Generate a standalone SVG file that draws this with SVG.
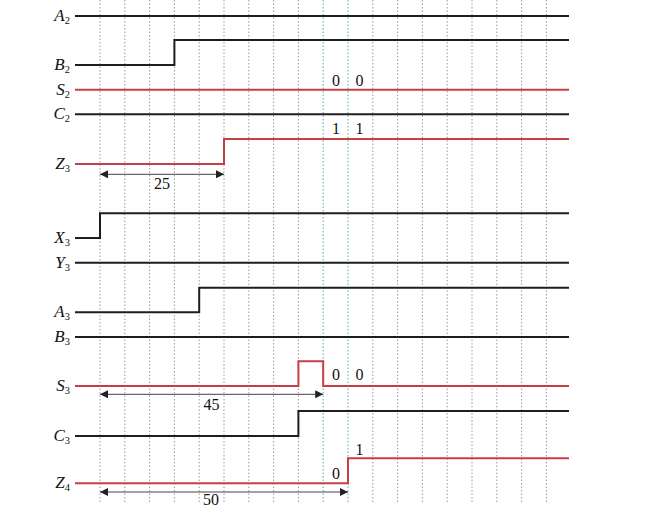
<svg xmlns="http://www.w3.org/2000/svg" width="662" height="524" viewBox="0 0 662 524">
<defs>
<style>
.grid{stroke:#9a9a9a;stroke-width:1;stroke-dasharray:1.5 2;fill:none}
.gridt{stroke:#5aa9a0;stroke-width:1;stroke-dasharray:1.5 2;fill:none}
.blk{stroke:#1e1e1e;stroke-width:2;fill:none}
.red{stroke:#c63f45;stroke-width:2;fill:none}
.dim{stroke:#444;stroke-width:1;fill:none;marker-start:url(#ah);marker-end:url(#ah)}
text{font-family:"Liberation Serif","Times New Roman",serif;fill:#111}
.lbl{font-size:17px}
.i{font-style:italic}
.s{font-size:10.5px}
.num{font-size:16px;text-anchor:middle}
</style>
<marker id="ah" viewBox="0 0 10 10" refX="10" refY="5" markerWidth="10" markerHeight="8" markerUnits="userSpaceOnUse" orient="auto-start-reverse">
<path d="M0,0 L10,5 L0,10 z" fill="#222"/>
</marker>
</defs>
<g id="grid">
<line class="grid" x1="100" y1="0" x2="100" y2="503"/>
<line class="grid" x1="124.8" y1="0" x2="124.8" y2="503"/>
<line class="grid" x1="149.6" y1="0" x2="149.6" y2="503"/>
<line class="grid" x1="174.4" y1="0" x2="174.4" y2="503"/>
<line class="grid" x1="199.2" y1="0" x2="199.2" y2="503"/>
<line class="grid" x1="224" y1="0" x2="224" y2="503"/>
<line class="grid" x1="248.8" y1="0" x2="248.8" y2="503"/>
<line class="grid" x1="273.6" y1="0" x2="273.6" y2="503"/>
<line class="grid" x1="298.4" y1="0" x2="298.4" y2="503"/>
<line class="gridt" x1="323.2" y1="0" x2="323.2" y2="503"/>
<line class="gridt" x1="348" y1="0" x2="348" y2="503"/>
<line class="grid" x1="372.8" y1="0" x2="372.8" y2="503"/>
<line class="grid" x1="397.6" y1="0" x2="397.6" y2="503"/>
<line class="grid" x1="422.4" y1="0" x2="422.4" y2="503"/>
<line class="grid" x1="447.2" y1="0" x2="447.2" y2="503"/>
<line class="grid" x1="472" y1="0" x2="472" y2="503"/>
<line class="grid" x1="496.8" y1="0" x2="496.8" y2="503"/>
<line class="grid" x1="521.6" y1="0" x2="521.6" y2="503"/>
<line class="grid" x1="546.4" y1="0" x2="546.4" y2="503"/>
</g>
<g id="signals">
<g id="A2"><polyline class="blk" points="75,16 569,16"/><text class="lbl" x="70" y="21" text-anchor="end"><tspan class="i">A</tspan><tspan class="s" dy="3">2</tspan></text></g>
<g id="B2"><polyline class="blk" points="75,65 174.4,65 174.4,40 569,40"/><text class="lbl" x="70" y="70" text-anchor="end"><tspan class="i">B</tspan><tspan class="s" dy="3">2</tspan></text></g>
<g id="S2"><polyline class="red" points="75,89.7 569,89.7"/><text class="lbl" x="70" y="94.5" text-anchor="end"><tspan class="i">S</tspan><tspan class="s" dy="3">2</tspan></text></g>
<g id="C2"><polyline class="blk" points="75,114.3 569,114.3"/><text class="lbl" x="70" y="119" text-anchor="end"><tspan class="i">C</tspan><tspan class="s" dy="3">2</tspan></text></g>
<g id="Z3"><polyline class="red" points="75,164 224,164 224,139 569,139"/><text class="lbl" x="70" y="169" text-anchor="end"><tspan class="i">Z</tspan><tspan class="s" dy="3">3</tspan></text></g>
<g id="X3"><polyline class="blk" points="75,238 100,238 100,213.3 569,213.3"/><text class="lbl" x="70" y="243" text-anchor="end"><tspan class="i">X</tspan><tspan class="s" dy="3">3</tspan></text></g>
<g id="Y3"><polyline class="blk" points="75,262.7 569,262.7"/><text class="lbl" x="70" y="267.5" text-anchor="end"><tspan class="i">Y</tspan><tspan class="s" dy="3">3</tspan></text></g>
<g id="A3"><polyline class="blk" points="75,312.3 199.2,312.3 199.2,287.7 569,287.7"/><text class="lbl" x="70" y="317" text-anchor="end"><tspan class="i">A</tspan><tspan class="s" dy="3">3</tspan></text></g>
<g id="B3"><polyline class="blk" points="75,337 569,337"/><text class="lbl" x="70" y="342" text-anchor="end"><tspan class="i">B</tspan><tspan class="s" dy="3">3</tspan></text></g>
<g id="S3"><polyline class="red" points="75,386 298.4,386 298.4,361.3 323.2,361.3 323.2,386 569,386"/><text class="lbl" x="70" y="391" text-anchor="end"><tspan class="i">S</tspan><tspan class="s" dy="3">3</tspan></text></g>
<g id="C3"><polyline class="blk" points="75,436 298.4,436 298.4,411 569,411"/><text class="lbl" x="70" y="441" text-anchor="end"><tspan class="i">C</tspan><tspan class="s" dy="3">3</tspan></text></g>
<g id="Z4"><polyline class="red" points="75,483.3 348,483.3 348,458.3 569,458.3"/><text class="lbl" x="70" y="488" text-anchor="end"><tspan class="i">Z</tspan><tspan class="s" dy="3">4</tspan></text></g>
</g>
<g id="connectors">
<line class="dim" x1="100" y1="174.3" x2="224" y2="174.3"/>
<line class="dim" x1="100" y1="394.3" x2="323.2" y2="394.3"/>
<line class="dim" x1="100" y1="492" x2="348" y2="492"/>
</g>
<g id="values">
<text class="num" x="162" y="189">25</text>
<text class="num" x="211.5" y="410">45</text>
<text class="num" x="211" y="505">50</text>
<text class="num" x="336" y="86">0</text>
<text class="num" x="359.5" y="86">0</text>
<text class="num" x="336" y="134">1</text>
<text class="num" x="359.5" y="134">1</text>
<text class="num" x="336" y="380">0</text>
<text class="num" x="359.5" y="380">0</text>
<text class="num" x="359.5" y="455">1</text>
<text class="num" x="336" y="479">0</text>
</g>
</svg>
